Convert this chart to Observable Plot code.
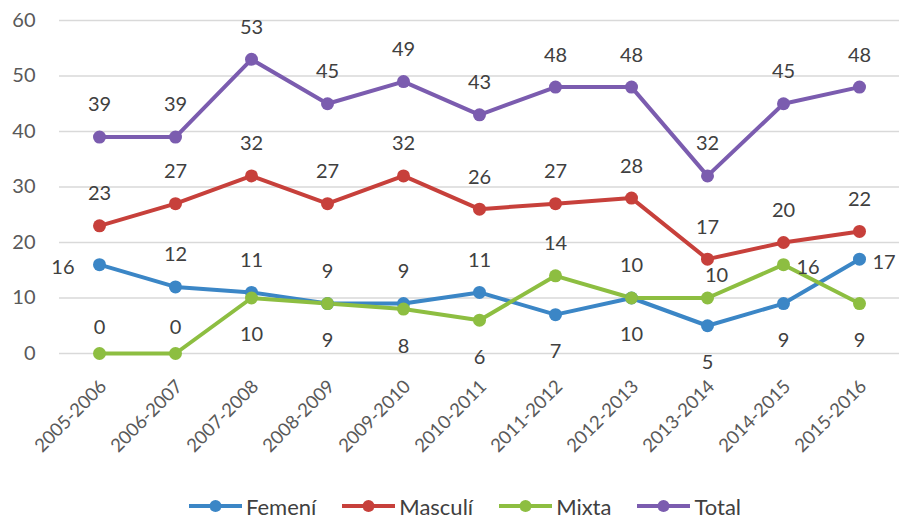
<!DOCTYPE html>
<html>
<head>
<meta charset="utf-8">
<script src="https://cdn.jsdelivr.net/npm/d3@7"></script>
<script src="https://cdn.jsdelivr.net/npm/@observablehq/plot@0.6"></script>
<style>
  html, body { margin: 0; padding: 0; background: #fff; }
  #chart { width: 899px; }
  .legend { display: flex; justify-content: center; align-items: center; gap: 25px;
    padding-left: 30px; margin-top: 12px; height: 24px;
    font-family: Lato, "Open Sans", sans-serif; font-size: 22px; color: #404040; }
  .legend .item { display: flex; align-items: center; gap: 3px; }
</style>
</head>
<body>
<div id="chart"></div>
<script>
const seasons = ["2005-2006","2006-2007","2007-2008","2008-2009","2009-2010","2010-2011","2011-2012","2012-2013","2013-2014","2014-2015","2015-2016"];
const femeni  = [16, 12, 11, 9, 9, 11, 7, 10, 5, 9, 17];
const masculi = [23, 27, 32, 27, 32, 26, 27, 28, 17, 20, 22];
const mixta   = [0, 0, 10, 9, 8, 6, 14, 10, 10, 16, 9];
const total   = [39, 39, 53, 45, 49, 43, 48, 48, 32, 45, 48];
const seriesNames = ["Femení", "Masculí", "Mixta", "Total"];
const yTicks = [0, 10, 20, 30, 40, 50, 60];

const colors = {"Femení": "#3B86C6", "Masculí": "#C7403B", "Mixta": "#8DBE41", "Total": "#7B5CAF"};
const valuesBySeries = {"Femení": femeni, "Masculí": masculi, "Mixta": mixta, "Total": total};

const rows = [];
for (const s of seriesNames) {
  valuesBySeries[s].forEach((v, i) => rows.push({series: s, season: seasons[i], value: v, i}));
}

// label placement rule (styling, computed in code)
function place(d) {
  if (d.series === "Total" || d.series === "Masculí") return "above";
  const other = d.series === "Femení" ? mixta[d.i] : femeni[d.i];
  if (d.series === "Femení" && d.i === 0) return "left";
  if (d.series === "Femení" && d.i === seasons.length - 1) return "right";
  if (d.series === "Mixta" && d.i === 9) return "right";
  if (d.series === "Mixta" && d.i === 8) return "aboveRight";
  if (d.value === 0) return "aboveZero";
  if (d.value > other) return "above";
  if (d.value < other) return "below";
  return d.series === "Mixta" ? "above" : "below";
}
const groups = {above: [], below: [], left: [], right: [], aboveRight: [], aboveZero: []};
rows.forEach(d => groups[place(d)].push(d));

const labelStyle = {x: "season", y: "value", text: d => String(d.value), fill: "#404040",
  fontSize: 20, fontFamily: "Lato, 'Open Sans', sans-serif"};

const plot = Plot.plot({
  width: 899,
  height: 482,
  marginLeft: 59,
  marginRight: 0,
  marginTop: 20,
  marginBottom: 129,
  style: {fontFamily: "Lato, 'Open Sans', sans-serif", fontSize: "17px", color: "#595959", background: "#fff"},
  x: {type: "point", domain: seasons, padding: 0.5, label: null},
  y: {domain: [0, 60], ticks: yTicks, label: null},
  color: {domain: seriesNames, range: seriesNames.map(s => colors[s])},
  marks: [
    Plot.ruleY(yTicks, {stroke: "#d9d9d9", strokeWidth: 1.5}),
    Plot.axisX({tickSize: 0, tickRotate: -45, tickPadding: 30, dx: 4, fontSize: 18.5, fill: "#595959"}),
    Plot.axisY({ticks: yTicks, tickSize: 0, tickPadding: 24, fontSize: 20, fill: "#595959"}),
    Plot.line(rows, {x: "season", y: "value", z: "series", stroke: "series", strokeWidth: 4}),
    Plot.dot(rows, {x: "season", y: "value", fill: "series", r: 6.5}),
    Plot.text(groups.above, {...labelStyle, dy: -32}),
    Plot.text(groups.aboveZero, {...labelStyle, dy: -26}),
    Plot.text(groups.below, {...labelStyle, dy: 37}),
    Plot.text(groups.left, {...labelStyle, dx: -25, dy: 3, textAnchor: "end"}),
    Plot.text(groups.right, {...labelStyle, dx: 13, dy: 3, textAnchor: "start"}),
    Plot.text(groups.aboveRight, {...labelStyle, dx: 9, dy: -22})
  ]
});
document.getElementById("chart").appendChild(plot);

// legend
const legend = document.createElement("div");
legend.className = "legend";
for (const s of seriesNames) {
  const item = document.createElement("div");
  item.className = "item";
  item.innerHTML = `<svg width="55" height="16"><line x1="1" x2="54" y1="8" y2="8" stroke="${colors[s]}" stroke-width="4"/><circle cx="27.5" cy="8" r="6" fill="${colors[s]}"/></svg><span>${s}</span>`;
  legend.appendChild(item);
}
document.body.appendChild(legend);
</script>
</body>
</html>
